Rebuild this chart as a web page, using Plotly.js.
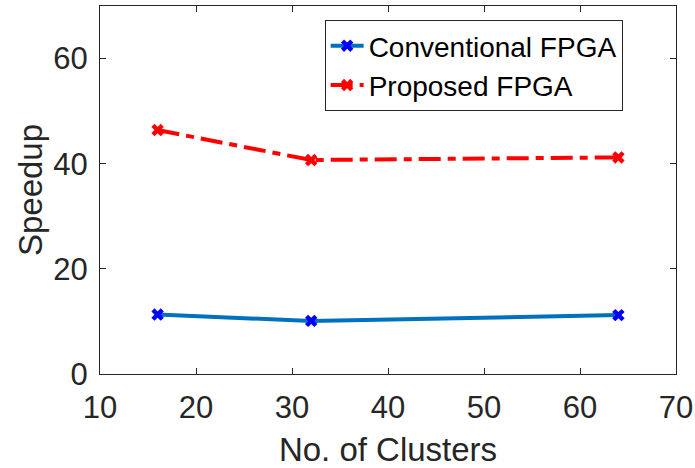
<!DOCTYPE html>
<html><head><meta charset="utf-8">
<script src="https://cdn.plot.ly/plotly-3.0.1.min.js"></script>
<style>body{margin:0;padding:0;background:#fff}#c{width:695px;height:468px}</style>
</head><body><div id="c"></div>
<script>
const clusters = [16, 32, 64];
const conventional = [11.3, 10.1, 11.2];
const proposed = [46.4, 40.7, 41.2];
const xTicks = [10, 20, 30, 40, 50, 60, 70];
const yTicks = [0, 20, 40, 60];

const FONT = 'Liberation Sans, Arial, Helvetica, sans-serif';
const traces = [
  {x: clusters, y: conventional, name: 'Conventional FPGA', mode: 'lines+markers',
   line: {color: '#0072BD', width: 4},
   marker: {symbol: 'x', size: 11, color: '#0000FF'}},
  {x: clusters, y: proposed, name: 'Proposed FPGA', mode: 'lines+markers',
   line: {color: '#FF0000', width: 4, dash: '22px,7px,8px,7px'},
   marker: {symbol: 'x', size: 11, color: '#FF0000'}}
];
const axisCommon = {showline: true, mirror: 'ticks', linecolor: '#262626', linewidth: 1,
  ticks: 'inside', ticklen: 6, tickcolor: '#262626', showgrid: false, zeroline: false,
  tickfont: {family: FONT, size: 31, color: '#262626'}};
const layout = {
  width: 695, height: 468,
  margin: {l: 100, r: 19, t: 6, b: 94},
  paper_bgcolor: '#fff', plot_bgcolor: '#fff',
  showlegend: true,
  legend: {x: 0.39, y: 0.962, xanchor: 'left', yanchor: 'top',
    bordercolor: '#262626', borderwidth: 1, bgcolor: '#fff',
    font: {family: FONT, size: 28, color: '#000'},
    itemwidth: 33, tracegroupgap: 0},
  xaxis: Object.assign({}, axisCommon, {range: [10, 70], tickvals: xTicks, ticklabelstandoff: 6,
    title: {text: 'No. of Clusters', standoff: 13, font: {family: FONT, size: 33, color: '#262626'}}}),
  yaxis: Object.assign({}, axisCommon, {range: [0, 70], tickvals: yTicks, ticklabelstandoff: 5,
    title: {text: 'Speedup', standoff: 0, font: {family: FONT, size: 33, color: '#262626'}}})
};
Plotly.newPlot('c', traces, layout, {displayModeBar: false, staticPlot: true});
</script></body></html>
